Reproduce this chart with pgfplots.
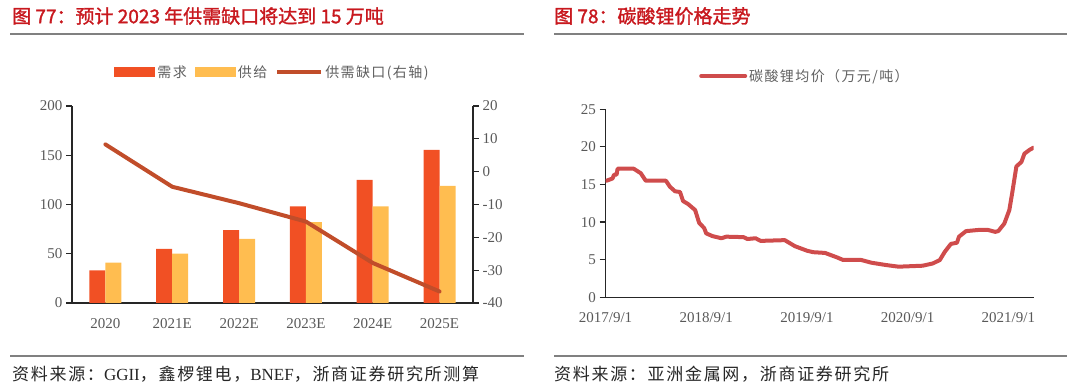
\documentclass[border=0pt]{standalone}
\usepackage{fontspec}
\setmainfont{Liberation Serif}
\newfontfamily\cjk{Noto Sans CJK SC}
\newfontfamily\cjkl{Noto Sans CJK SC}[LetterSpace=10]
\newfontfamily\cjkt{Noto Sans CJK SC}[FakeBold=1.5]
\usepackage{pgfplots}
\pgfplotsset{compat=1.18}
\definecolor{dem}{RGB}{241,80,36}
\definecolor{sup}{RGB}{255,189,80}
\definecolor{gapc}{RGB}{193,77,42}
\definecolor{pricec}{RGB}{207,76,76}
\definecolor{titlered}{RGB}{200,24,30}
\definecolor{tickgray}{RGB}{89,89,89}
\definecolor{leggray}{RGB}{95,95,95}
\definecolor{rulegray}{RGB}{128,128,128}
\pgfplotsset{
  common/.style={
    scale only axis,
    /pgf/number format/assume math mode=true,
    axis line style={-, line width=1.2pt, black!85},
    tick style={line width=1.2pt, black!85},
    tick align=outside,
    major tick length=6pt,
    ticklabel style={font=\fontsize{15}{15}\selectfont, text=tickgray},
    xtick style={draw=none},
    xticklabel style={yshift=-6pt},
  }
}
\begin{document}
\begin{tikzpicture}[x=1pt,y=1pt]
\path[use as bounding box] (0,0) rectangle (1080,390);
% titles and rules
\node[anchor=west, text=titlered, font=\cjkt\fontsize{19}{22}\selectfont, inner sep=0] at (12,374) {图 77：预计 2023 年供需缺口将达到 15 万吨};
\node[anchor=west, text=titlered, font=\cjkt\fontsize{19}{22}\selectfont, inner sep=0] at (554,374) {图 78：碳酸锂价格走势};
\draw[rulegray, line width=1.5pt] (10,356) -- (524,356);
\draw[rulegray, line width=1.5pt] (554,356) -- (1067,356);
\draw[rulegray, line width=1.5pt] (10,34) -- (524,34);
\draw[rulegray, line width=1.5pt] (554,34) -- (1067,34);
\node[anchor=west, text=black!85, font=\fontsize{17}{19}\selectfont, inner sep=0] at (12,16) {{\cjkl 资料来源：}GGII{\cjkl ，鑫椤锂电，}BNEF{\cjkl ，浙商证券研究所测算}};
\node[anchor=west, text=black!85, font=\cjkl\fontsize{17}{19}\selectfont, inner sep=0] at (554,16) {资料来源：亚洲金属网，浙商证券研究所};

% left chart: bars
\begin{axis}[common, name=A1,
  at={(72pt,87pt)}, anchor=south west, width=401pt, height=197pt,
  xmin=-0.5, xmax=5.5, ymin=0, ymax=200,
  axis y line*=left, axis x line*=bottom,
  xtick={0,1,2,3,4,5},
  xticklabels={2020,2021E,2022E,2023E,2024E,2025E},
  ytick={0,50,100,150,200},
  legend style={at={(0.5,1.1726)}, anchor=center, draw=none, fill=none,
    font=\cjkl\fontsize{14}{16}\selectfont, text=leggray, legend columns=3,
    /tikz/every even column/.append style={column sep=6pt},
    legend cell align=left},
]
\addplot[ybar, bar width=16pt, bar shift=-8pt, fill=dem, draw=none,
  legend image code/.code={\fill[dem] (0pt,-5pt) rectangle (41pt,5pt);}]
  coordinates {(0,33) (1,55) (2,74) (3,98) (4,125) (5,155.5)};
\addlegendentry{需求}
\addplot[ybar, bar width=16pt, bar shift=8pt, fill=sup, draw=none,
  legend image code/.code={\fill[sup] (0pt,-5pt) rectangle (41pt,5pt);}]
  coordinates {(0,41) (1,50) (2,65) (3,82) (4,98) (5,119)};
\addlegendentry{供给}
\addlegendimage{gapc, line width=4pt, legend image code/.code={\draw[gapc, line width=4pt] (0pt,0pt) -- (44pt,0pt);}}
\addlegendentry{供需缺口(右轴)}
\end{axis}

% left chart: gap line on right axis
\begin{axis}[common, name=A2,
  at={(72pt,87pt)}, anchor=south west, width=401pt, height=197pt,
  xmin=-0.5, xmax=5.5, ymin=-40, ymax=20,
  axis y line*=right, axis x line*=bottom,
  x axis line style={draw=none}, xtick=\empty,
  ytick={-40,-30,-20,-10,0,10,20},
  yticklabels={-40,-30,-20,-10,0,10,20},
]
\addplot[gapc, line width=4pt, line cap=round, line join=round]
  coordinates {(0,8.3) (1,-4.6) (2,-9.6) (3,-15.2) (4,-27.8) (5,-36.5)};
\end{axis}

% right chart
\begin{axis}[common, name=A3,
  at={(605.5pt,92.7pt)}, anchor=south west, width=428pt, height=188pt,
  xmin=0, xmax=4.25, ymin=0, ymax=25,
  axis y line*=left, axis x line*=bottom,
  xtick={0,1,2,3,4},
  xticklabels={2017/9/1,2018/9/1,2019/9/1,2020/9/1,2021/9/1},
  ytick={0,5,10,15,20,25},
  legend style={at={(0.466,1.177)}, anchor=center, draw=none, fill=none,
    font=\cjkl\fontsize{14}{16}\selectfont, text=leggray},
]
\addplot[pricec, line width=4pt, line cap=round, line join=round,
  legend image code/.code={\draw[pricec, line width=4pt] (0pt,0pt) -- (44pt,0pt);}]
  coordinates {
  (0.01,15.5) (0.07,15.8) (0.085,16.3) (0.11,16.3) (0.12,17.1) (0.28,17.1)
  (0.35,16.5) (0.40,15.5) (0.60,15.5) (0.64,14.7) (0.69,14.1) (0.74,14.0)
  (0.77,12.8) (0.82,12.4) (0.89,11.6) (0.93,9.9) (0.98,9.2) (1.00,8.5)
  (1.06,8.15) (1.15,7.85) (1.20,8.06) (1.37,8.0) (1.41,7.75) (1.49,7.85)
  (1.54,7.5) (1.78,7.6) (1.88,6.8) (2.00,6.2) (2.06,6.0) (2.18,5.9)
  (2.30,5.3) (2.36,4.96) (2.54,4.96) (2.64,4.6) (2.78,4.3) (2.91,4.07)
  (3.15,4.2) (3.25,4.5) (3.32,4.96) (3.37,6.07) (3.43,7.1) (3.49,7.26)
  (3.51,8.06) (3.58,8.8) (3.70,8.95) (3.80,8.95) (3.87,8.7) (3.90,8.8)
  (3.96,9.8) (4.01,11.6) (4.04,14.0) (4.08,17.4) (4.13,18.0) (4.16,19.1)
  (4.21,19.6) (4.25,19.9)};
\addlegendentry{碳酸锂均价（万元/吨）}
\end{axis}
\end{tikzpicture}
\end{document}
